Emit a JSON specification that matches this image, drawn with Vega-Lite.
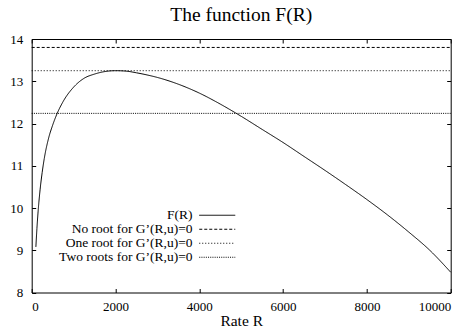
{
  "$schema": "https://vega.github.io/schema/vega-lite/v6.json",
  "autosize": "none",
  "width": 419,
  "height": 253.5,
  "padding": {"left": 31.7, "top": 39, "right": 15.3, "bottom": 43.5},
  "background": "white",
  "title": {"text": "The function F(R)", "font": "Liberation Serif", "fontSize": 19.5, "fontWeight": "normal", "color": "black", "offset": 8},
  "data": {"values": [
    {"R": 100, "F": 9.08, "series": "F(R)"},
    {"R": 125, "F": 9.52, "series": "F(R)"},
    {"R": 150, "F": 9.88, "series": "F(R)"},
    {"R": 200, "F": 10.43, "series": "F(R)"},
    {"R": 250, "F": 10.84, "series": "F(R)"},
    {"R": 300, "F": 11.17, "series": "F(R)"},
    {"R": 400, "F": 11.64, "series": "F(R)"},
    {"R": 500, "F": 11.96, "series": "F(R)"},
    {"R": 600, "F": 12.22, "series": "F(R)"},
    {"R": 750, "F": 12.52, "series": "F(R)"},
    {"R": 1000, "F": 12.86, "series": "F(R)"},
    {"R": 1250, "F": 13.07, "series": "F(R)"},
    {"R": 1500, "F": 13.17, "series": "F(R)"},
    {"R": 1750, "F": 13.23, "series": "F(R)"},
    {"R": 2000, "F": 13.25, "series": "F(R)"},
    {"R": 2250, "F": 13.24, "series": "F(R)"},
    {"R": 2500, "F": 13.2, "series": "F(R)"},
    {"R": 2750, "F": 13.15, "series": "F(R)"},
    {"R": 3000, "F": 13.09, "series": "F(R)"},
    {"R": 3500, "F": 12.93, "series": "F(R)"},
    {"R": 4000, "F": 12.72, "series": "F(R)"},
    {"R": 4500, "F": 12.46, "series": "F(R)"},
    {"R": 5000, "F": 12.17, "series": "F(R)"},
    {"R": 5500, "F": 11.86, "series": "F(R)"},
    {"R": 6000, "F": 11.55, "series": "F(R)"},
    {"R": 6500, "F": 11.22, "series": "F(R)"},
    {"R": 7000, "F": 10.89, "series": "F(R)"},
    {"R": 7500, "F": 10.55, "series": "F(R)"},
    {"R": 8000, "F": 10.2, "series": "F(R)"},
    {"R": 8500, "F": 9.83, "series": "F(R)"},
    {"R": 9000, "F": 9.43, "series": "F(R)"},
    {"R": 9500, "F": 9.0, "series": "F(R)"},
    {"R": 10000, "F": 8.48, "series": "F(R)"},
    {"R": 0, "F": 13.8, "series": "No root for G’(R,u)=0"},
    {"R": 10000, "F": 13.8, "series": "No root for G’(R,u)=0"},
    {"R": 0, "F": 13.25, "series": "One root for G’(R,u)=0"},
    {"R": 10000, "F": 13.25, "series": "One root for G’(R,u)=0"},
    {"R": 0, "F": 12.24, "series": "Two roots for G’(R,u)=0"},
    {"R": 10000, "F": 12.24, "series": "Two roots for G’(R,u)=0"}
  ]},
  "encoding": {
    "x": {"field": "R", "type": "quantitative", "scale": {"domain": [0, 10000], "nice": false, "zero": false}},
    "y": {"field": "F", "type": "quantitative", "scale": {"domain": [8, 14], "nice": false, "zero": false}},
    "strokeDash": {"field": "series", "type": "nominal",
      "scale": {"domain": ["F(R)", "No root for G’(R,u)=0", "One root for G’(R,u)=0", "Two roots for G’(R,u)=0"],
                "range": [[1, 0], [3, 2], [1, 2], [1, 1.2]]},
      "legend": {"orient": "none", "legendX": 178.8, "legendY": 169.5, "title": null, "symbolType": "M-4,0L4,0", "symbolSize": 81,
                 "symbolStrokeWidth": 1, "labelAlign": "right", "labelOffset": -31.5, "padding": 0, "rowPadding": -1,
                 "labelFont": "Liberation Serif", "labelFontSize": 13.5, "labelColor": "black", "labelLimit": 400, "symbolStrokeColor": "black"}}
  },
  "layer": [
    {
      "transform": [{"filter": "datum.series === 'F(R)'"}],
      "mark": {"type": "line", "strokeWidth": 1, "interpolate": "monotone", "color": "black"},
      "encoding": {
        "x": {"field": "R", "type": "quantitative", "title": "Rate R",
              "axis": {"orient": "bottom", "values": [0, 2000, 4000, 6000, 8000, 10000], "format": "d", "grid": false, "tickSize": -4, "labelPadding": 11.5,
                       "labelFont": "Liberation Serif", "labelFontSize": 13, "titleFont": "Liberation Serif", "titleFontSize": 15.5, "titleFontWeight": "normal",
                       "titlePadding": 0, "domainColor": "black", "tickColor": "black", "labelColor": "black", "titleColor": "black"}},
        "y": {"field": "F", "type": "quantitative", "title": null,
              "axis": {"orient": "left", "values": [8, 9, 10, 11, 12, 13, 14], "format": "d", "grid": false, "tickSize": -4, "labelPadding": 13,
                       "labelFont": "Liberation Serif", "labelFontSize": 13, "domainColor": "black", "tickColor": "black", "labelColor": "black"}}
      }
    },
    {
      "transform": [{"filter": "datum.series !== 'F(R)'"}],
      "mark": {"type": "line", "strokeWidth": 1, "color": "black"},
      "encoding": {
        "x": {"field": "R", "type": "quantitative",
              "axis": {"orient": "top", "values": [0, 2000, 4000, 6000, 8000, 10000], "grid": false, "tickSize": -4, "labels": false, "title": null,
                       "domainColor": "black", "tickColor": "black"}},
        "y": {"field": "F", "type": "quantitative",
              "axis": {"orient": "right", "values": [8, 9, 10, 11, 12, 13, 14], "grid": false, "tickSize": -4, "labels": false, "title": null,
                       "domainColor": "black", "tickColor": "black"}}
      }
    }
  ],
  "resolve": {"axis": {"x": "independent", "y": "independent"}},
  "config": {"view": {"stroke": null}}
}
